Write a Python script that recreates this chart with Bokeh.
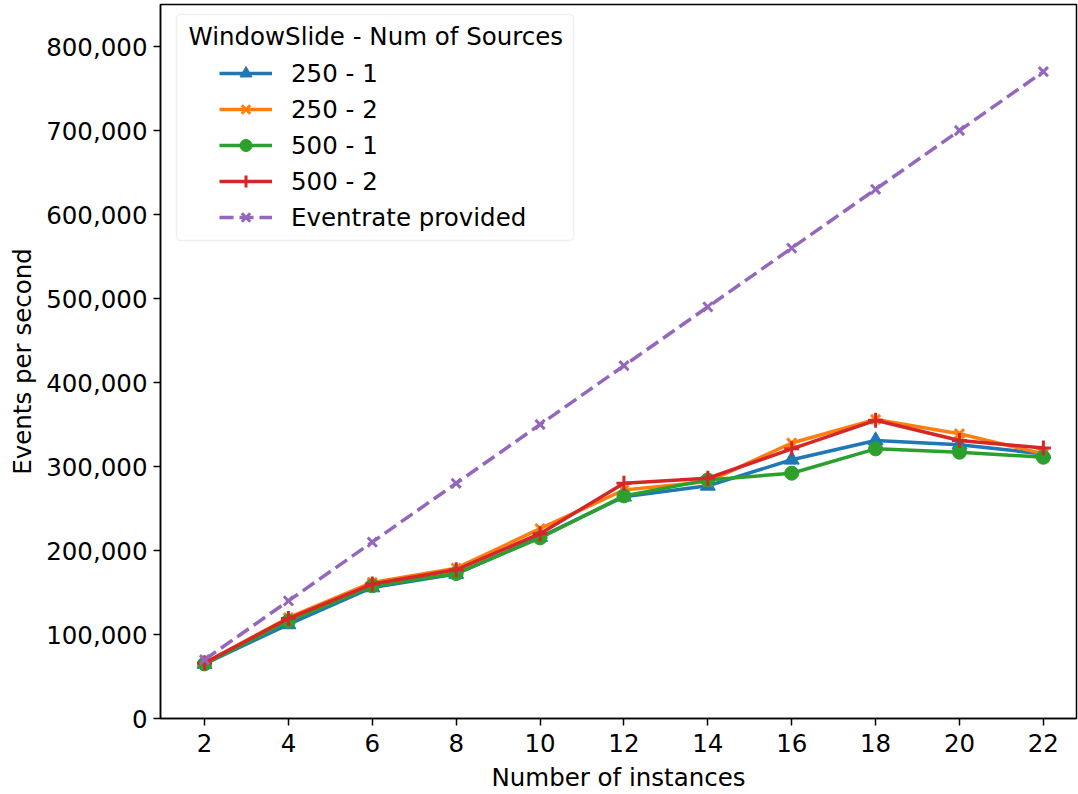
from bokeh.plotting import figure
from bokeh.models import (NumeralTickFormatter, FixedTicker, Range1d, Legend, LegendItem,
                          BoxAnnotation, Label)
from bokeh.embed import file_html
from bokeh.resources import INLINE

instances = [2, 4, 6, 8, 10, 12, 14, 16, 18, 20, 22]
s250_1 = [65000, 112000, 156000, 172000, 216000, 264000, 277000, 308000, 331000, 326000, 315000]
s250_2 = [66000, 120000, 162000, 179000, 226000, 272000, 282000, 328000, 356000, 339000, 315000]
s500_1 = [65000, 116000, 158000, 172500, 215000, 265000, 284000, 292000, 321000, 317000, 311000]
s500_2 = [66000, 119000, 160000, 177000, 220000, 280000, 286000, 321000, 355000, 331000, 322000]
eventrate = [70000, 140000, 210000, 280000, 350000, 420000, 490000, 560000, 630000, 700000, 770000]

labels = ["250 - 1", "250 - 2", "500 - 1", "500 - 2", "Eventrate provided"]
legend_title = "WindowSlide - Num of Sources"
colors = ["#1f77b4", "#ff7f0e", "#2ca02c", "#d62728", "#9467bd"]
markers = ["triangle", "x", "circle", "cross", "x"]
series = [s250_1, s250_2, s500_1, s500_2, eventrate]
dashes = ["solid", "solid", "solid", "solid", "14 6"]
sizes = [15, 13, 14, 15, 13]

FONT = "DejaVu Sans"
FS = "24.5px"

p = figure(width=1078, height=794, output_backend="svg", toolbar_location=None,
           x_range=Range1d(0.95, 22.79), y_range=Range1d(0, 850000),
           min_border_left=160, min_border_right=2, min_border_top=4, min_border_bottom=76)

items = []
for lab, col, mk, ys, ds, sz in zip(labels, colors, markers, series, dashes, sizes):
    ln = p.line(instances, ys, line_color=col, line_width=3.5, line_dash=ds)
    sc = p.scatter(instances, ys, marker=mk, size=sz, fill_color=col, line_color=col,
                   line_width=3 if mk in ("x", "cross") else 1)
    items.append(LegendItem(label=lab, renderers=[ln, sc]))

p.xgrid.visible = False
p.ygrid.visible = False
p.outline_line_color = "black"
p.outline_line_width = 1.5
p.outline_line_alpha = 1

p.xaxis.ticker = FixedTicker(ticks=instances)
p.yaxis.ticker = FixedTicker(ticks=[0, 100000, 200000, 300000, 400000, 500000, 600000, 700000, 800000])
p.yaxis.formatter = NumeralTickFormatter(format="0,0")
for ax in (p.xaxis[0], p.yaxis[0]):
    ax.major_label_text_font = FONT
    ax.major_label_text_font_size = FS
    ax.major_label_text_color = "black"
    ax.axis_label_text_font = FONT
    ax.axis_label_text_font_size = FS
    ax.axis_label_text_font_style = "normal"
    ax.axis_label_text_color = "black"
    ax.minor_tick_line_color = None
    ax.major_tick_out = 7
    ax.major_tick_in = 0
    ax.major_tick_line_width = 1.5
    ax.axis_line_width = 1.5
p.xaxis.axis_label = "Number of instances"
p.yaxis.axis_label = "Events per second"
p.xaxis.axis_label_standoff = 8
p.yaxis.axis_label_standoff = 6
p.xaxis.major_label_standoff = 8
p.yaxis.major_label_standoff = 6

# legend frame and title
box = BoxAnnotation(left=16, right=413, top=704, bottom=478,
                    left_units="screen", right_units="screen", top_units="screen", bottom_units="screen",
                    fill_color="white", fill_alpha=0.8, line_color="#cccccc", line_width=1.5,
                    border_radius=4)
p.add_layout(box)
title = Label(x=28, y=682, x_units="screen", y_units="screen", text=legend_title,
              text_font=FONT, text_font_size=FS, text_color="black", text_baseline="middle")
p.add_layout(title)

legend = Legend(items=items, location=(59, 486))
legend.label_text_font = FONT
legend.label_text_font_size = FS
legend.label_text_color = "black"
legend.glyph_width = 53
legend.glyph_height = 30
legend.label_height = 30
legend.label_standoff = 19
legend.spacing = 6
legend.padding = 0
legend.margin = 0
legend.border_line_color = None
legend.background_fill_alpha = 0
p.add_layout(legend)

open("out.html", "w").write(file_html(p, INLINE))
